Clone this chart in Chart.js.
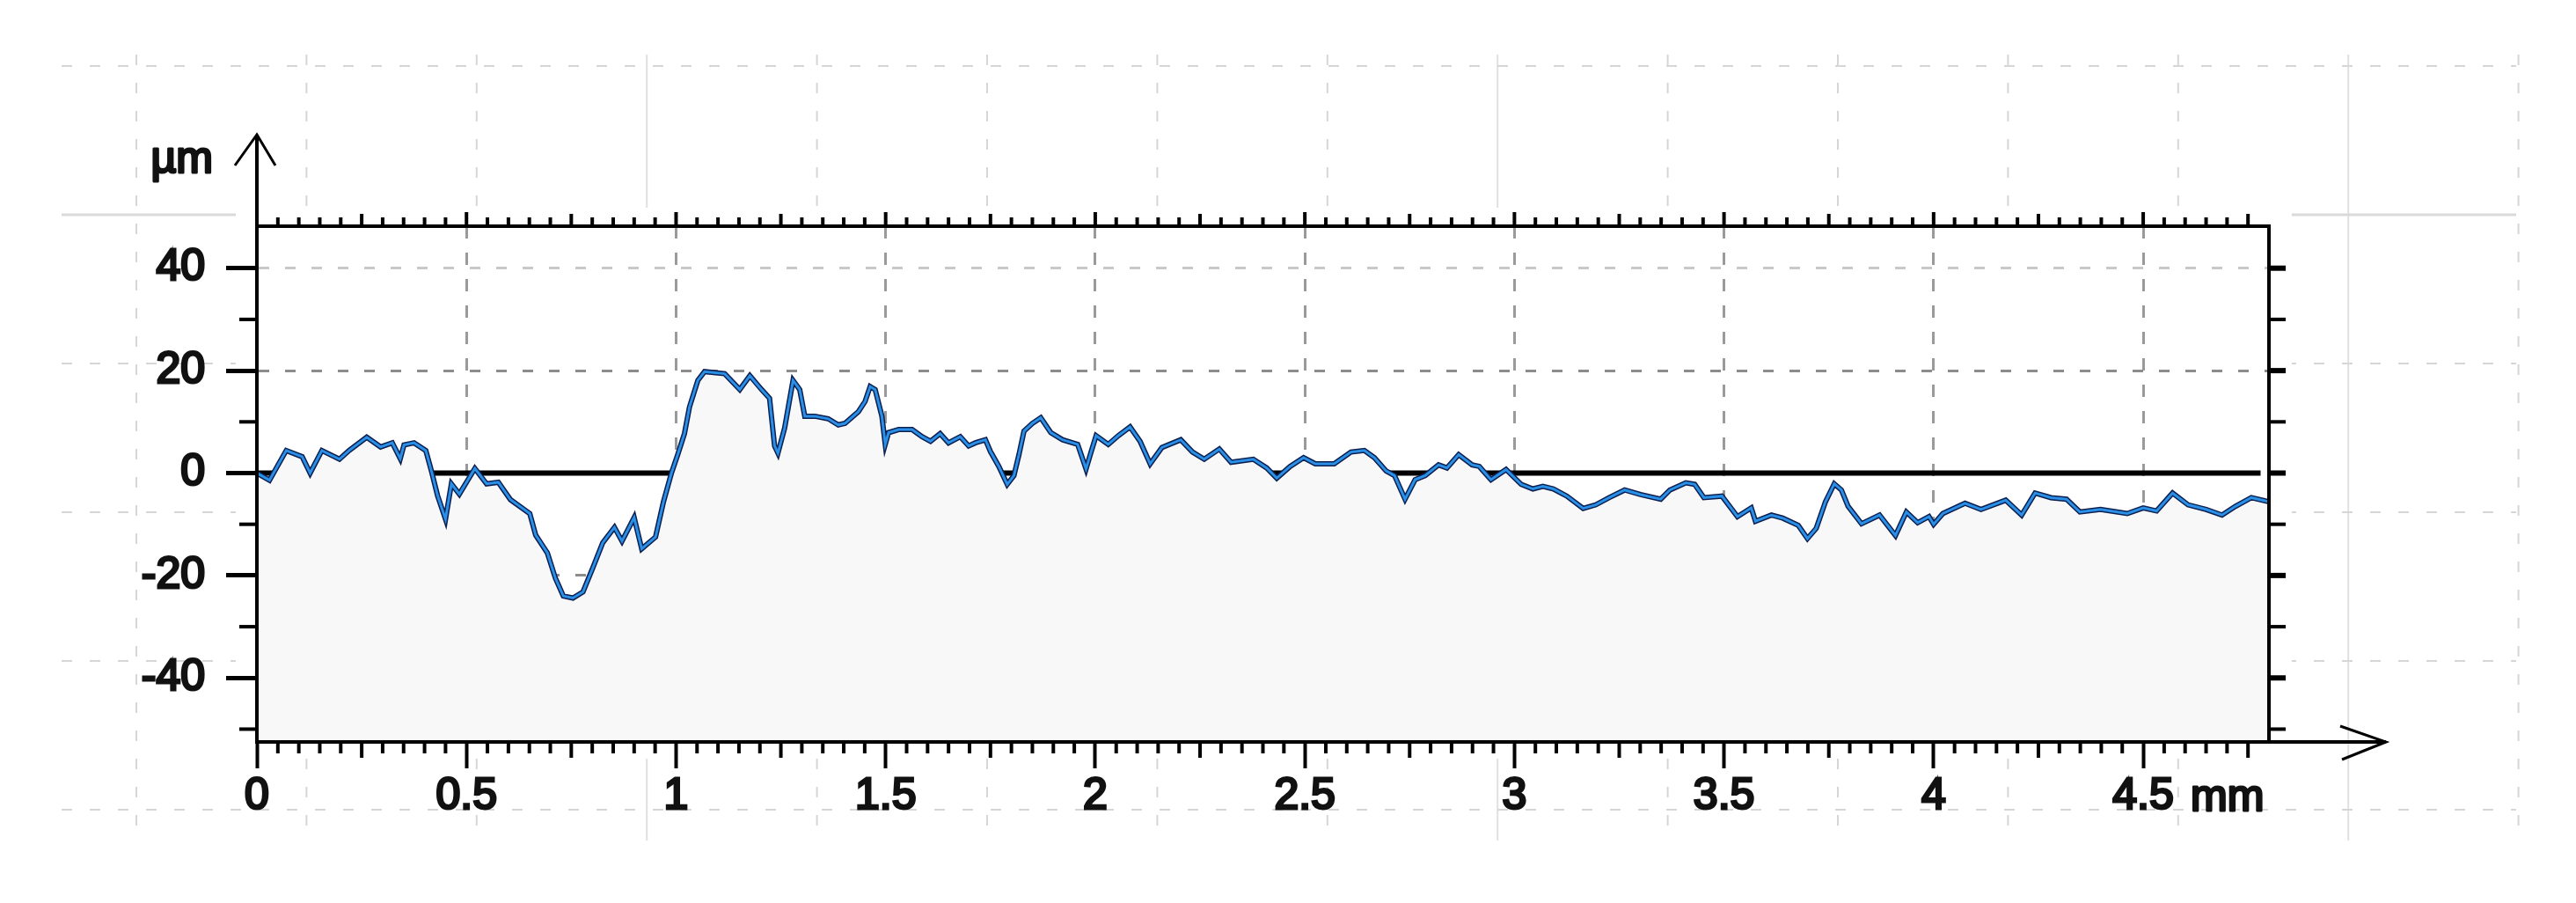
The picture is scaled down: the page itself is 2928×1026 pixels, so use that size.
<!DOCTYPE html>
<html>
<head>
<meta charset="utf-8">
<title>Surface profile</title>
<script src="https://cdn.jsdelivr.net/npm/chart.js@4.4.1/dist/chart.umd.min.js"></script>
<style>
  html, body { margin: 0; padding: 0; background: #fff; }
  #wrap { width: 2928px; height: 1026px; }
</style>
</head>
<body>
<div id="wrap"><canvas id="profileChart" width="2928" height="1026"></canvas></div>
<script>
// Profile: position along the trace (mm) and height (µm)
const positionMm = [
  0.00, 0.03, 0.07, 0.108, 0.127, 0.155, 0.197, 0.22, 0.262, 0.295, 0.323, 0.342, 0.351, 0.375, 0.403, 0.417, 0.431, 0.45, 0.464, 0.483,
  0.506, 0.52, 0.548, 0.576, 0.605, 0.651, 0.665, 0.693, 0.712, 0.731, 0.754, 0.778, 0.801, 0.825, 0.853, 0.871, 0.9, 0.918, 0.951, 0.97, 0.989,
  1.004, 1.02, 1.032, 1.052, 1.068, 1.116, 1.152, 1.176, 1.204, 1.223, 1.235, 1.243, 1.259, 1.279, 1.295, 1.307, 1.331, 1.363, 1.387, 1.403,
  1.435, 1.451, 1.463, 1.475, 1.491, 1.499, 1.507, 1.531, 1.563, 1.587, 1.607, 1.63, 1.65, 1.678, 1.698, 1.714, 1.738, 1.75, 1.77, 1.79,
  1.806, 1.818, 1.83, 1.85, 1.87, 1.894, 1.922, 1.958, 1.978, 1.99,
  2.002, 2.031, 2.055, 2.083, 2.107, 2.131, 2.159, 2.204, 2.232, 2.26, 2.296, 2.324, 2.377, 2.409, 2.433, 2.465, 2.497,
  2.525, 2.57, 2.61, 2.642, 2.666, 2.694, 2.714, 2.739, 2.763, 2.787, 2.819, 2.839, 2.867, 2.899, 2.916, 2.944, 2.98,
  3.016, 3.044, 3.068, 3.093, 3.125, 3.164, 3.194, 3.226, 3.263, 3.301, 3.349, 3.371, 3.409, 3.43, 3.452, 3.495,
  3.532, 3.565, 3.575, 3.613, 3.64, 3.677, 3.699, 3.72, 3.742, 3.763, 3.78, 3.796, 3.828, 3.871, 3.909, 3.935, 3.962, 3.989,
  4.0, 4.022, 4.075, 4.113, 4.172, 4.21, 4.242, 4.28, 4.317, 4.349, 4.398, 4.462,
  4.5, 4.532, 4.57, 4.607, 4.65, 4.688, 4.72, 4.758, 4.8
];
const heightUm = [
  0, -1.4, 4.4, 3.2, 0, 4.4, 2.7, 4.4, 7.0, 5.1, 5.9, 2.8, 5.5, 5.9, 4.4, 0.2, -4.4, -9.0, -2.1, -4.1,
  -1.0, 0.9, -2.1, -1.8, -5.2, -7.9, -12.1, -15.6, -20.5, -24.0, -24.4, -23.2, -18.6, -13.6, -10.6, -13.3, -8.7, -14.8, -12.5, -5.6, 0,
  3.6, 7.7, 12.9, 18.1, 19.8, 19.4, 16.3, 19.0, 16.3, 14.6, 5.3, 3.9, 8.8, 18.1, 16.3, 11.1, 11.1, 10.6, 9.4, 9.7,
  12.0, 14.0, 16.9, 16.3, 11.1, 5.6, 7.9, 8.5, 8.5, 7.1, 6.2, 7.7, 5.9, 7.1, 5.3, 5.9, 6.5, 4.2, 1.3, -2.2,
  -0.5, 3.6, 8.2, 9.7, 10.8, 7.9, 6.5, 5.6, 0.8, 4.1,
  7.3, 5.6, 7.3, 9.0, 6.2, 1.8, 5.0, 6.5, 4.1, 2.7, 4.7, 2.1, 2.7, 1.0, -1.0, 1.3, 3.0,
  1.8, 1.8, 4.1, 4.4, 3.0, 0.4, -0.5, -5.1, -1.3, -0.5, 1.6, 1.0, 3.6, 1.6, 1.3, -1.3, 0.7,
  -2.2, -3.1, -2.6, -3.1, -4.5, -6.9, -6.2, -4.8, -3.3, -4.2, -5.1, -3.3, -1.9, -2.2, -4.8, -4.5,
  -8.5, -6.8, -9.4, -8.2, -8.8, -10.2, -12.8, -10.8, -5.6, -2.1, -3.3, -6.5, -9.9, -8.2, -12.2, -7.6, -9.7, -8.5,
  -10.0, -7.9, -5.9, -7.1, -5.3, -8.2, -3.9, -4.8, -5.1, -7.6, -7.1, -7.9,
  -6.8, -7.4, -3.9, -6.2, -7.1, -8.2, -6.5, -4.8, -5.6
];

// Axis ranges and labelled ticks
const xRange = [0, 4.8];
const yRange = [-52.5, 48.2];
const xTickLabels = ['0', '0.5', '1', '1.5', '2', '2.5', '3', '3.5', '4', '4.5'];
const yTickLabels = ['-40', '-20', '0', '20', '40'];
const referenceLineX = [0, 4.78];
const xUnit = 'mm';
const yUnit = 'µm';

const FONT = '"Liberation Sans", Arial, sans-serif';

const profilePoints = positionMm.map((x, i) => ({ x: x, y: heightUm[i] }));
const referencePoints = referenceLineX.map(x => ({ x: x, y: 0 }));

function labelFor(list, value) {
    const hit = list.find(l => Math.abs(Number(l) - value) < 1e-6);
    return hit === undefined ? '' : hit;
}

function line(ctx, x1, y1, x2, y2) {
    ctx.beginPath();
    ctx.moveTo(x1, y1);
    ctx.lineTo(x2, y2);
    ctx.stroke();
}

// Sheet grid behind the plot, white plate under the plot itself
const sheetBackground = {
    id: 'sheetBackground',
    beforeDraw(chart) {
        const ctx = chart.ctx;
        const area = chart.chartArea;
        ctx.save();
        ctx.fillStyle = '#fff';
        ctx.fillRect(0, 0, chart.width, chart.height);

        for (let k = 0; k < 15; k++) {
            const gx = 155 + k * 193.4;
            const solid = k % 5 === 3;
            ctx.strokeStyle = solid ? '#e0e0e0' : '#d6d6d6';
            ctx.lineWidth = 2;
            ctx.setLineDash(solid ? [] : [12, 20]);
            line(ctx, gx, 62, gx, 955);
        }
        for (let k = 0; k < 6; k++) {
            const gy = 75 + k * 169;
            const solid = k === 1;
            ctx.strokeStyle = solid ? '#dadada' : '#d6d6d6';
            ctx.lineWidth = solid ? 3 : 2;
            ctx.setLineDash(solid ? [] : [12, 20]);
            line(ctx, 70, gy, 2860, gy);
        }
        ctx.setLineDash([]);
        ctx.fillStyle = '#fff';
        ctx.fillRect(area.left - 24, area.top - 21, area.width + 50, area.height + 40);
        ctx.restore();
    }
};

// Frame, minor ticks, axis arrows and unit labels
const frameDecor = {
    id: 'frameDecor',
    afterDatasetsDraw(chart) {
        const ctx = chart.ctx;
        const area = chart.chartArea;
        const xs = chart.scales.x;
        const ys = chart.scales.y;
        ctx.save();
        ctx.strokeStyle = '#000';
        ctx.lineCap = 'butt';

        // plot frame
        ctx.lineWidth = 4;
        ctx.strokeRect(area.left, area.top, area.width, area.height);

        // x minor ticks, bottom (down) and top (up)
        for (let i = 1; i * 0.05 < xRange[1]; i++) {
            const v = Math.round(i * 0.05 * 100) / 100;
            const px = xs.getPixelForValue(v);
            const major = Math.abs(v / 0.5 - Math.round(v / 0.5)) < 1e-6;
            const mid = Math.abs(v / 0.25 - Math.round(v / 0.25)) < 1e-6;
            ctx.lineWidth = 4;
            if (!major) line(ctx, px, area.bottom, px, area.bottom + (mid ? 18 : 13));
            line(ctx, px, area.top, px, area.top - (major ? 16 : mid ? 14 : 10));
        }

        // y minor ticks left, all ticks right
        for (let v = -50; v <= 40; v += 10) {
            const py = ys.getPixelForValue(v);
            const major = v % 20 === 0;
            if (!major) {
                ctx.lineWidth = 4;
                line(ctx, area.left, py, area.left - 20, py);
            }
            ctx.lineWidth = major ? 6 : 4;
            line(ctx, area.right, py, area.right + 19, py);
        }

        // axis extensions with open arrow heads
        ctx.lineWidth = 4;
        const tipY = area.top - 104;
        line(ctx, area.left, area.top, area.left, tipY);
        ctx.lineWidth = 3;
        ctx.beginPath();
        ctx.moveTo(area.left - 25, tipY + 35);
        ctx.lineTo(area.left, tipY);
        ctx.lineTo(area.left + 21, tipY + 35);
        ctx.stroke();

        ctx.lineWidth = 4;
        const tipX = area.right + 133;
        line(ctx, area.right, area.bottom, tipX, area.bottom);
        ctx.lineWidth = 3;
        ctx.beginPath();
        ctx.moveTo(tipX - 52, area.bottom - 18);
        ctx.lineTo(tipX, area.bottom);
        ctx.lineTo(tipX - 50, area.bottom + 20);
        ctx.stroke();

        // unit labels
        ctx.fillStyle = '#111';
        ctx.strokeStyle = '#111';
        ctx.lineWidth = 3;
        ctx.lineJoin = 'round';
        ctx.font = '50px ' + FONT;
        ctx.textAlign = 'right';
        ctx.textBaseline = 'middle';
        ctx.strokeText(yUnit, area.left - 50, area.top - 75);
        ctx.fillText(yUnit, area.left - 50, area.top - 75);

        ctx.textAlign = 'left';
        ctx.strokeText(xUnit, xs.getPixelForValue(4.5) + 54, area.bottom + 64);
        ctx.fillText(xUnit, xs.getPixelForValue(4.5) + 54, area.bottom + 64);
        ctx.restore();
    }
};

const ctx = document.getElementById('profileChart').getContext('2d');

new Chart(ctx, {
    type: 'line',
    data: {
        datasets: [
            {
                // dark body of the trace, carries the fill down to the axis
                data: profilePoints,
                borderColor: '#0c1f4f',
                borderWidth: 6,
                backgroundColor: '#f8f8f8',
                fill: 'start',
                pointRadius: 0,
                tension: 0,
                order: 2
            },
            {
                // light blue highlight on top
                data: profilePoints,
                borderColor: '#2a8fe6',
                borderWidth: 3,
                fill: false,
                pointRadius: 0,
                tension: 0,
                order: 1
            },
            {
                // mean line at 0, hidden where the profile fill covers it
                data: referencePoints,
                borderColor: '#000',
                borderWidth: 6,
                fill: false,
                pointRadius: 0,
                order: 3
            }
        ]
    },
    options: {
        responsive: false,
        animation: false,
        devicePixelRatio: 1,
        layout: { padding: { top: 257, right: 349, left: 0, bottom: 0 } },
        plugins: {
            legend: { display: false },
            tooltip: { enabled: false }
        },
        scales: {
            x: {
                type: 'linear',
                position: 'bottom',
                min: xRange[0],
                max: xRange[1],
                afterFit(scale) { scale.height = 183; },
                ticks: {
                    stepSize: 0.5,
                    autoSkip: false,
                    includeBounds: false,
                    maxRotation: 0,
                    padding: 2,
                    color: '#111',
                    textStrokeColor: '#111',
                    textStrokeWidth: 3,
                    font: { family: FONT, size: 50 },
                    callback: v => labelFor(xTickLabels, v)
                },
                grid: {
                    color: c => (c.tick && c.tick.value === 0) ? 'rgba(0,0,0,0)' : '#9a9a9a',
                    lineWidth: 3,
                    tickLength: 30,
                    tickWidth: 4,
                    tickColor: '#000'
                },
                border: { display: true, color: '#000', width: 4, dash: [14, 16] }
            },
            y: {
                type: 'linear',
                position: 'left',
                min: yRange[0],
                max: yRange[1],
                afterFit(scale) { scale.width = 292; },
                ticks: {
                    stepSize: 20,
                    autoSkip: false,
                    includeBounds: false,
                    padding: 24,
                    color: '#111',
                    textStrokeColor: '#111',
                    textStrokeWidth: 3,
                    font: { family: FONT, size: 50 },
                    callback: v => labelFor(yTickLabels, v)
                },
                grid: {
                    color: c => {
                        if (!c.tick) return '#999';
                        if (c.tick.value === 0) return 'rgba(0,0,0,0)';
                        return c.tick.value === 40 ? '#c8c8c8' : '#8c8c8c';
                    },
                    lineWidth: 3,
                    tickLength: 35,
                    tickWidth: 5,
                    tickColor: '#000'
                },
                border: { display: true, color: '#000', width: 4, dash: [12, 18] }
            }
        }
    },
    plugins: [sheetBackground, frameDecor]
});
</script>
</body>
</html>
